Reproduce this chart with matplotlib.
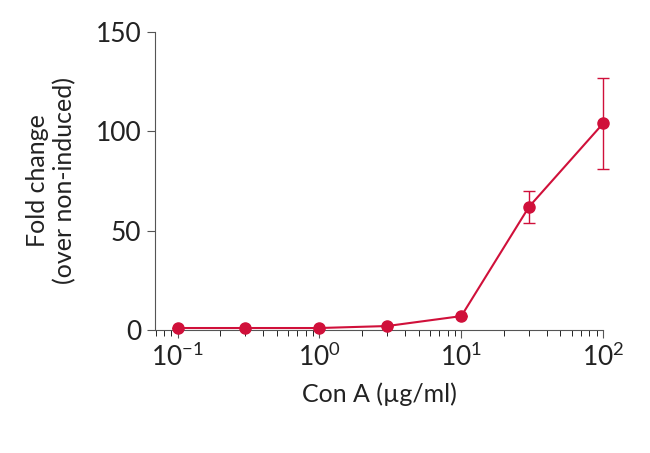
import matplotlib
matplotlib.use("Agg")
import matplotlib.pyplot as plt

conc = [0.1, 0.3, 1, 3, 10, 30, 100]
fold = [1, 1, 1, 2, 7, 62, 104]
err = [0, 0, 0, 0, 0, 8, 23]

plt.rcParams['font.family'] = ['Lato', 'DejaVu Sans']
plt.rcParams['font.weight'] = 'normal'
plt.rcParams['mathtext.fontset'] = 'custom'
plt.rcParams['mathtext.rm'] = 'Lato'
plt.rcParams['mathtext.it'] = 'Lato'
plt.rcParams['mathtext.default'] = 'rm'
color = '#d0103a'
tc = '#222222'

fig = plt.figure(figsize=(6.5, 4.53), dpi=100)
ax = fig.add_axes([0.238, 0.2715, 0.69, 0.658])
ax.errorbar(conc, fold, yerr=err, color=color, marker='o', ms=8, lw=1.5,
            capsize=4, elinewidth=1, capthick=1, clip_on=False, zorder=3)
ax.set_xscale('log')
ax.set_xlim(0.069, 100)
ax.set_ylim(0, 150)
ax.set_yticks([0, 50, 100, 150])
ax.spines['top'].set_visible(False)
ax.spines['right'].set_visible(False)
for s in ['left', 'bottom']:
    ax.spines[s].set_color('#555555')
ax.tick_params(labelsize=19, colors='#555555', labelcolor=tc, length=6)
ax.tick_params(axis='x', which='minor', length=4)
ax.set_xlabel('Con A (µg/ml)', fontsize=18, color=tc, labelpad=8)
ax.set_ylabel('Fold change\n(over non-induced)', fontsize=18, color=tc, labelpad=14)
fig.savefig('out.png', dpi=100)
